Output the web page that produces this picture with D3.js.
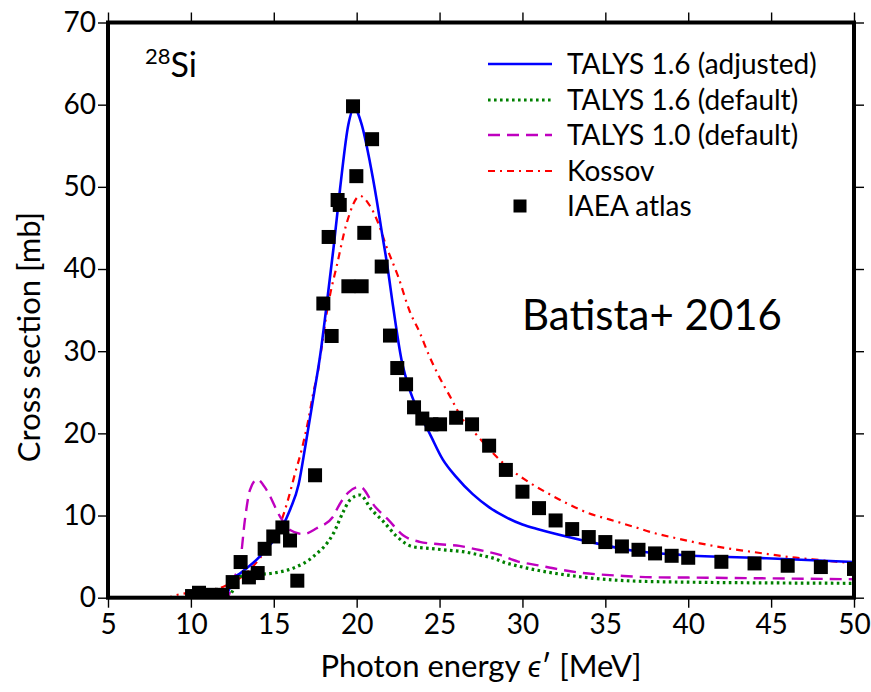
<!DOCTYPE html>
<html>
<head>
<meta charset="utf-8">
<script src="https://cdn.jsdelivr.net/npm/d3@7"></script>
<style>
  html, body { margin: 0; padding: 0; background: #fff; }
  svg { display: block; }
  text { font-family: Lato, "DejaVu Sans", sans-serif; fill: #000; }
</style>
</head>
<body>
<svg id="chart" width="871" height="692"></svg>
<script>
// Photo-absorption cross section of 28Si: model curves [energy MeV, sigma mb]
const talys16Adjusted = [
  [5, 0], [12.0, 0], [12.3, 1.0], [12.55, 2.2], [13.0, 3.0], [14.0, 4.7], [14.5, 5.8],
  [15.0, 7.0], [15.5, 8.6], [16.0, 10.8], [16.5, 13.8], [16.9, 18.4], [17.4, 24.5],
  [17.8, 29.5], [18.2, 35.8], [18.6, 42.5], [19.0, 49.8], [19.5, 57.6], [19.85, 59.6],
  [20.3, 57.6], [20.8, 53.0], [21.2, 48.5], [21.5, 44.7], [21.85, 40.4], [22.2, 35.4],
  [22.7, 29.0], [23.2, 25.3], [23.6, 23.2], [24.4, 20.0], [25.2, 16.8], [26.0, 14.7],
  [27.0, 12.6], [28.0, 11.0], [29.0, 9.8], [30.0, 8.9], [31.0, 8.3], [33.6, 7.0],
  [36.6, 5.75], [39.6, 5.2], [44.7, 4.8], [50, 4.35]
];
const talys16Default = [
  [5, 0], [12.2, 0], [12.55, 0.94], [12.96, 2.6], [13.97, 2.8], [14.97, 3.0], [16.18, 3.6],
  [17.38, 5.0], [18.59, 7.8], [19.2, 10.5], [19.6, 11.9], [20.2, 12.5], [20.9, 10.7],
  [21.6, 9.3], [22.4, 7.5], [23.4, 6.2], [24.4, 6.0], [25.4, 5.8], [26.4, 5.6], [27.4, 5.2],
  [28.4, 4.7], [28.9, 4.3], [29.85, 3.8], [31.26, 3.2], [32.67, 2.76], [34.26, 2.36],
  [36.67, 2.03], [40.7, 1.87], [45, 1.8], [50, 1.75]
];
const talys10Default = [
  [5, 0], [12.2, 0], [12.54, 2.16], [12.96, 4.2], [13.26, 9.5], [13.56, 13.1], [14.0, 14.4],
  [14.57, 13.1], [15.37, 9.9], [15.98, 8.24], [16.78, 7.75], [17.59, 8.45], [18.59, 9.9],
  [18.79, 10.7], [19.49, 12.8], [20.2, 13.5], [21.1, 11.1], [21.9, 9.5], [22.8, 7.6],
  [23.8, 6.8], [25.0, 6.5], [26.2, 6.3], [27.4, 5.8], [28.64, 5.2], [29.74, 4.4],
  [30.95, 3.94], [32.06, 3.5], [33.27, 3.1], [34.47, 2.85], [35.7, 2.7], [36.9, 2.55],
  [38.1, 2.48], [40, 2.45], [45, 2.35], [50, 2.25]
];
const kossov = [
  [5, 0], [8.5, 0], [9.14, 0.33], [11.96, 1.34], [14.17, 4.83], [15.0, 7.4], [15.5, 9.6],
  [15.87, 12.0], [16.28, 15.1], [16.68, 18.0], [17.08, 21.6], [17.38, 24.9], [17.68, 27.7],
  [17.89, 30.5], [18.19, 34.6], [18.39, 36.8], [18.79, 40.3], [19.4, 45.6], [20.2, 48.9],
  [20.7, 48.0], [21.3, 45.6], [21.8, 42.7], [22.5, 39.1], [23.21, 34.8], [23.82, 32.2],
  [24.32, 29.7], [24.92, 27.1], [25.63, 24.5], [26.43, 21.6], [27.24, 19.8], [28.04, 18.0],
  [29.05, 16.0], [30.2, 14.3], [31.36, 12.9], [32.67, 11.5], [33.97, 10.3], [35.28, 9.5],
  [36.68, 8.65], [38.0, 7.84], [39.3, 7.23], [40.7, 6.62], [42.1, 6.09], [43.5, 5.68],
  [44.9, 5.28], [46.2, 4.92], [47.5, 4.67], [48.9, 4.38], [50, 4.25]
];

// IAEA photonuclear data library points
const iaeaEnergy = [
  10.07, 10.49, 11.2, 11.88, 12.52, 13.0, 13.5, 14.03, 14.45, 14.97, 15.52, 15.98, 16.42,
  17.49, 17.99, 18.31, 18.49, 18.85, 18.98, 19.5, 19.78, 19.98, 20.3, 20.46, 20.93, 21.51,
  22.01, 22.45, 22.98, 23.46, 23.96, 24.51, 25.03, 26.0, 26.96, 27.99, 29, 30, 31, 32, 33,
  34, 35, 36, 37, 38, 39, 40, 42, 44, 46, 48, 50
];
const iaeaSigma = [
  0.2, 0.6, 0.35, 0.35, 1.9, 4.34, 2.47, 3.0, 5.95, 7.45, 8.55, 6.96, 2.07,
  14.9, 35.8, 43.9, 31.85, 48.4, 47.8, 37.9, 59.8, 51.3, 37.9, 44.4, 55.8, 40.3,
  31.9, 27.95, 25.97, 23.17, 21.8, 21.1, 21.1, 21.9, 21.1, 18.5, 15.55, 12.9, 10.9, 9.4, 8.35,
  7.38, 6.77, 6.24, 5.83, 5.39, 5.1, 4.86, 4.37, 4.17, 3.89, 3.73, 3.5
];

const xTicks = [5, 10, 15, 20, 25, 30, 35, 40, 45, 50];
const yTicks = [0, 10, 20, 30, 40, 50, 60, 70];

const seriesNames = ["TALYS 1.6 (adjusted)", "TALYS 1.6 (default)", "TALYS 1.0 (default)", "Kossov", "IAEA atlas"];

const curves = [
  { name: seriesNames[0], data: talys16Adjusted, color: "#0000ff", width: 2.6, dash: null },
  { name: seriesNames[1], data: talys16Default, color: "#008000", width: 3.2, dash: "2.6,3.4" },
  { name: seriesNames[2], data: talys10Default, color: "#bf00bf", width: 2.4, dash: "12,7" },
  { name: seriesNames[3], data: kossov, color: "#ff0000", width: 2.2, dash: "7,5,2,5" }
];

const svg = d3.select("#chart");
const plot = { left: 108, right: 854, top: 22.5, bottom: 597.7 };

const x = d3.scaleLinear().domain([5, 50]).range([plot.left, plot.right]);
const y = d3.scaleLinear().domain([0, 70]).range([plot.bottom, plot.top]);

svg.append("defs").append("clipPath").attr("id", "plotClip")
  .append("rect")
  .attr("x", plot.left).attr("y", plot.top)
  .attr("width", plot.right - plot.left).attr("height", plot.bottom - plot.top);

const dataLayer = svg.append("g").attr("clip-path", "url(#plotClip)");

const line = d3.line()
  .x(d => x(d[0]))
  .y(d => y(d[1]))
  .curve(d3.curveMonotoneX);

// model curves
curves.slice().reverse().forEach(c => {
  dataLayer.append("path")
    .datum(c.data)
    .attr("d", line)
    .attr("fill", "none")
    .attr("stroke", c.color)
    .attr("stroke-width", c.width)
    .attr("stroke-dasharray", c.dash)
    .attr("stroke-linejoin", "round");
});

// IAEA squares
const sq = 14;
dataLayer.selectAll("rect.iaea")
  .data(d3.zip(iaeaEnergy, iaeaSigma))
  .join("rect")
  .attr("class", "iaea")
  .attr("x", d => x(d[0]) - sq / 2)
  .attr("y", d => y(d[1]) - sq / 2)
  .attr("width", sq).attr("height", sq)
  .attr("fill", "#000");

// axes: ticks outward on all four sides
const tickLen = 10;
const fontSize = 28;

const gx = svg.append("g").attr("transform", `translate(0,${plot.bottom})`)
  .call(d3.axisBottom(x).tickValues(xTicks).tickSize(tickLen).tickSizeOuter(0).tickPadding(5).tickFormat(d3.format("d")));
const gxTop = svg.append("g").attr("transform", `translate(0,${plot.top})`)
  .call(d3.axisTop(x).tickValues(xTicks).tickSize(tickLen).tickSizeOuter(0).tickFormat(""));
const gy = svg.append("g").attr("transform", `translate(${plot.left},0)`)
  .call(d3.axisLeft(y).tickValues(yTicks).tickSize(tickLen).tickSizeOuter(0).tickPadding(2).tickFormat(d3.format("d")));
const gyRight = svg.append("g").attr("transform", `translate(${plot.right},0)`)
  .call(d3.axisRight(y).tickValues(yTicks).tickSize(tickLen).tickSizeOuter(0).tickFormat(""));

[gx, gxTop, gy, gyRight].forEach(g => {
  g.select(".domain").remove();
  g.selectAll(".tick line").attr("stroke", "#000").attr("stroke-width", 1.4);
  g.selectAll(".tick text")
    .style("font-family", "Lato, sans-serif")
    .style("font-size", fontSize + "px")
    .attr("fill", "#000");
});
gx.selectAll(".tick text").attr("dy", "0.75em");

// frame
svg.append("rect")
  .attr("x", plot.left).attr("y", plot.top)
  .attr("width", plot.right - plot.left).attr("height", plot.bottom - plot.top)
  .attr("fill", "none").attr("stroke", "#000").attr("stroke-width", 4);

// axis titles
svg.append("text")
  .attr("x", 481)
  .attr("y", 677)
  .attr("text-anchor", "middle")
  .style("font-size", "31px")
  .html('Photon energy <tspan font-style="italic">ϵ</tspan>′ [MeV]');

svg.append("text")
  .attr("transform", `translate(40,${(plot.top + plot.bottom) / 2 + 27}) rotate(-90)`)
  .attr("text-anchor", "middle")
  .style("font-size", "31px")
  .text("Cross section [mb]");

// nucleus label
const nuc = svg.append("text").attr("x", 145).attr("y", 77).style("font-size", "34px");
nuc.append("tspan").attr("dy", "-13").style("font-size", "22px").text("28");
nuc.append("tspan").attr("dy", "13").text("Si");

// reference label
svg.append("text")
  .attr("x", 522).attr("y", 330)
  .style("font-size", "42px")
  .text("Batista+ 2016");

// legend
const legend = svg.append("g");
const rowY = [64, 100, 135, 171, 206];
curves.forEach((c, i) => {
  legend.append("line")
    .attr("x1", 488).attr("x2", 552)
    .attr("y1", rowY[i]).attr("y2", rowY[i])
    .attr("stroke", c.color).attr("stroke-width", c.width)
    .attr("stroke-dasharray", c.dash);
});
legend.append("rect")
  .attr("x", 520 - 6.5).attr("y", rowY[4] - 6.5)
  .attr("width", 13).attr("height", 13).attr("fill", "#000");
seriesNames.forEach((n, i) => {
  legend.append("text")
    .attr("x", 567).attr("y", rowY[i])
    .attr("dy", "0.35em")
    .style("font-size", "28px")
    .text(n);
});
</script>
</body>
</html>
